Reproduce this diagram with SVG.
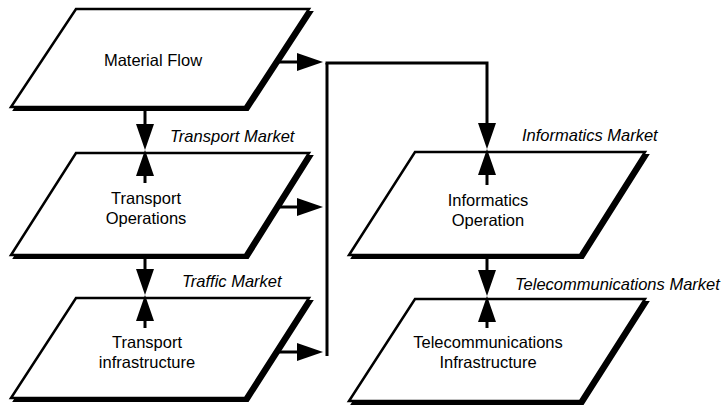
<svg xmlns="http://www.w3.org/2000/svg" width="727" height="407" viewBox="0 0 727 407">
<style>
.sh{fill:#000;stroke:#000;stroke-width:2;stroke-linejoin:miter}
.bx{fill:#fff;stroke:#000;stroke-width:2.5;stroke-linejoin:miter}
.t{font-family:"Liberation Sans",Arial,sans-serif;font-size:16.5px;fill:#000;text-anchor:middle}
.m{font-family:"Liberation Sans",Arial,sans-serif;font-size:16.5px;font-style:italic;fill:#000}
.c{fill:none;stroke:#000;stroke-width:3}
</style>
<defs>
<marker id="ah" markerUnits="userSpaceOnUse" markerWidth="26" markerHeight="18" refX="16" refY="9" orient="auto">
<path d="M0,0 L26,9 L0,18 Z" fill="#000"/>
</marker>
</defs>
<rect width="727" height="407" fill="#fff"/>
<g id="material-flow">
<polygon class="sh" points="79,12 312,12 248,110 14,110"/>
<polygon class="bx" points="76,9 309,9 245,107 11,107"/>
<text class="t" x="153" y="66">Material Flow</text>
</g>
<g id="transport-operations">
<polygon class="sh" points="79,156 312,156 248,258 14,258"/>
<polygon class="bx" points="76,153 309,153 245,255 11,255"/>
<text class="t" x="146" y="204">Transport</text>
<text class="t" x="146" y="224">Operations</text>
</g>
<g id="transport-infrastructure">
<polygon class="sh" points="79,301 312,301 248,401 14,401"/>
<polygon class="bx" points="76,298 309,298 245,398 11,398"/>
<text class="t" x="147" y="348">Transport</text>
<text class="t" x="147" y="368">infrastructure</text>
</g>
<g id="informatics-operation">
<polygon class="sh" points="418,155 648,155 583,258 352,258"/>
<polygon class="bx" points="415,152 645,152 580,255 349,255"/>
<text class="t" x="488" y="206">Informatics</text>
<text class="t" x="488" y="226">Operation</text>
</g>
<g id="telecommunications-infrastructure">
<polygon class="sh" points="418,302 648,302 583,404 352,404"/>
<polygon class="bx" points="415,299 645,299 580,401 349,401"/>
<text class="t" x="488" y="348">Telecommunications</text>
<text class="t" x="488" y="368">Infrastructure</text>
</g>
<g id="labels">
<text class="m" x="170" y="142">Transport Market</text>
<text class="m" x="182" y="287">Traffic Market</text>
<text class="m" x="522" y="141">Informatics Market</text>
<text class="m" x="515" y="290">Telecommunications Market</text>
</g>
<g id="connectors">
<path class="c" d="M278,62 H313" marker-end="url(#ah)"/>
<path class="c" d="M278,207 H313" marker-end="url(#ah)"/>
<path class="c" d="M277,352 H313" marker-end="url(#ah)"/>
<path class="c" d="M327,356 V63"/>
<path class="c" d="M325.5,63 H487 V139" marker-end="url(#ah)"/>
<path class="c" d="M487,185 V159" marker-end="url(#ah)"/>
<path class="c" d="M145,108 V140" marker-end="url(#ah)"/>
<path class="c" d="M145,183 V160" marker-end="url(#ah)"/>
<path class="c" d="M145,256 V285" marker-end="url(#ah)"/>
<path class="c" d="M145,328 V305" marker-end="url(#ah)"/>
<path class="c" d="M487,256 V286" marker-end="url(#ah)"/>
<path class="c" d="M487,328 V306" marker-end="url(#ah)"/>
</g>
</svg>
